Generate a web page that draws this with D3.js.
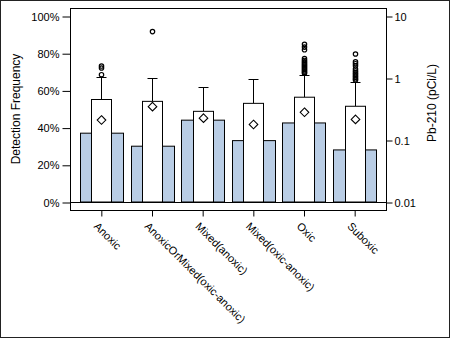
<!DOCTYPE html>
<html>
<head>
<meta charset="utf-8">
<script src="https://cdn.jsdelivr.net/npm/d3@7"></script>
<style>
  body { margin: 0; background: #fff; }
  text { font-family: "Liberation Sans", Arial, sans-serif; fill: #000; }
</style>
</head>
<body>
<div id="chart"></div>
<script>
// values
let categories = ['Anoxic', 'AnoxicOrMixed(oxic-anoxic)', 'Mixed(anoxic)', 'Mixed(oxic-anoxic)', 'Oxic', 'Suboxic'];
let detectFreq = [0.37, 0.30, 0.44, 0.33, 0.425, 0.28];
let boxLow = [0.01, 0.01, 0.01, 0.01, 0.01, 0.01];
let boxQ3 = [0.45, 0.42, 0.29, 0.39, 0.49, 0.35];
let boxMean = [0.21, 0.345, 0.225, 0.178, 0.28, 0.215];
let whiskerHi = [1.05, 0.99, 0.71, 0.95, 1.12, 0.86];
let outliers = [
    [1.56, 1.45, 1.13],
    [5.6],
    [],
    [],
    [3.5, 3.15, 2.85, 2.05, 1.92, 1.82, 1.72, 1.64, 1.56, 1.49, 1.42, 1.36, 1.3, 1.24, 1.19],
    [2.44, 1.83, 1.7, 1.57, 1.4, 1.3, 1.22, 1.15, 1.09, 1.03, 0.97, 0.93]
];
let pctTicks = [0, 0.2, 0.4, 0.6, 0.8, 1];
let pbTicks = [0.01, 0.1, 1, 10];

let W = 450, H = 338;
let mLeft = 70, mRight = 386, mTop = 8, mBottom = 210;

let svg = d3.select('#chart').append('svg')
    .attr('width', W)
    .attr('height', H);

let x = d3.scaleBand().domain(categories).range([76, 380]);
let yL = d3.scaleLinear().domain([0, 1]).range([202, 16]);
let yR = d3.scaleLog().domain([0.01, 10]).range([202, 16]);
let cx = c => x(c) + x.bandwidth() / 2;

// outer border
svg.append('rect')
    .attr('x', 0.5).attr('y', 0.5)
    .attr('width', W - 1).attr('height', H - 1)
    .attr('fill', 'none').attr('stroke', '#222');

// detection frequency bars
let barW = 43;
svg.append('g').selectAll('rect')
    .data(categories)
    .join('rect')
    .attr('x', c => Math.round(cx(c) - barW / 2) + 0.5)
    .attr('y', (c, i) => yL(detectFreq[i]))
    .attr('width', barW)
    .attr('height', (c, i) => yL(0) - yL(detectFreq[i]))
    .attr('fill', '#b9cde5')
    .attr('stroke', '#000');

// boxes
let boxW = 20, capW = 10;
let g = svg.append('g');
categories.forEach((c, i) => {
    let m = Math.round(cx(c)) + 0.5;
    g.append('line')
        .attr('x1', m).attr('x2', m)
        .attr('y1', yR(boxQ3[i])).attr('y2', yR(whiskerHi[i]))
        .attr('stroke', '#000');
    g.append('line')
        .attr('x1', m - capW / 2).attr('x2', m + capW / 2)
        .attr('y1', Math.round(yR(whiskerHi[i])) + 0.5).attr('y2', Math.round(yR(whiskerHi[i])) + 0.5)
        .attr('stroke', '#000');
    g.append('rect')
        .attr('x', m - boxW / 2)
        .attr('y', yR(boxQ3[i]))
        .attr('width', boxW)
        .attr('height', yR(boxLow[i]) - yR(boxQ3[i]))
        .attr('fill', '#fff')
        .attr('stroke', '#000');
    let my = yR(boxMean[i]), d = 4.3;
    g.append('path')
        .attr('d', `M${m},${my - d}L${m + d},${my}L${m},${my + d}L${m - d},${my}Z`)
        .attr('fill', 'none')
        .attr('stroke', '#000')
        .attr('stroke-width', 1.1);
    g.selectAll(null)
        .data(outliers[i])
        .join('circle')
        .attr('cx', m)
        .attr('cy', v => yR(v))
        .attr('r', 2.2)
        .attr('fill', 'none')
        .attr('stroke', '#000')
        .attr('stroke-width', 1.2);
});

// zero / 0.01 reference line
svg.append('line')
    .attr('x1', mLeft).attr('x2', mRight)
    .attr('y1', yL(0) + 0.5).attr('y2', yL(0) + 0.5)
    .attr('stroke', '#000');

// frame
svg.append('rect')
    .attr('x', mLeft + 0.5).attr('y', mTop + 0.5)
    .attr('width', mRight - mLeft).attr('height', mBottom - mTop)
    .attr('fill', 'none').attr('stroke', '#000');

// left axis
let axL = svg.append('g')
    .attr('transform', `translate(${mLeft + 0.5},0.5)`)
    .call(d3.axisLeft(yL).tickValues(pctTicks).tickFormat(d3.format('.0%')).tickSize(8).tickPadding(3));
axL.select('.domain').remove();
axL.selectAll('text').style('font-size', '11px').style('font-family', '"Liberation Sans", Arial, sans-serif');

// right axis
let axR = svg.append('g')
    .attr('transform', `translate(${mRight + 0.5},0.5)`)
    .call(d3.axisRight(yR).tickValues(pbTicks).tickFormat(d => d3.format('~g')(d)).tickSize(6).tickPadding(2));
axR.select('.domain').remove();
axR.selectAll('text').style('font-size', '11px').style('font-family', '"Liberation Sans", Arial, sans-serif');

// bottom axis
let axB = svg.append('g')
    .attr('transform', `translate(0.5,${mBottom + 0.5})`)
    .call(d3.axisBottom(x).tickSize(6).tickFormat(''));
axB.select('.domain').remove();

svg.append('g').selectAll('text')
    .data(categories)
    .join('text')
    .attr('transform', c => `translate(${cx(c) - 8},227) rotate(45)`)
    .style('font-size', '11px')
    .text(c => c);

// axis titles
svg.append('text')
    .attr('transform', 'translate(20,109) rotate(-90)')
    .attr('text-anchor', 'middle')
    .style('font-size', '12px')
    .text('Detection Frequency');

svg.append('text')
    .attr('transform', 'translate(436,103) rotate(-90)')
    .attr('text-anchor', 'middle')
    .style('font-size', '12px')
    .text('Pb-210 (pCi/L)');
</script>
</body>
</html>
